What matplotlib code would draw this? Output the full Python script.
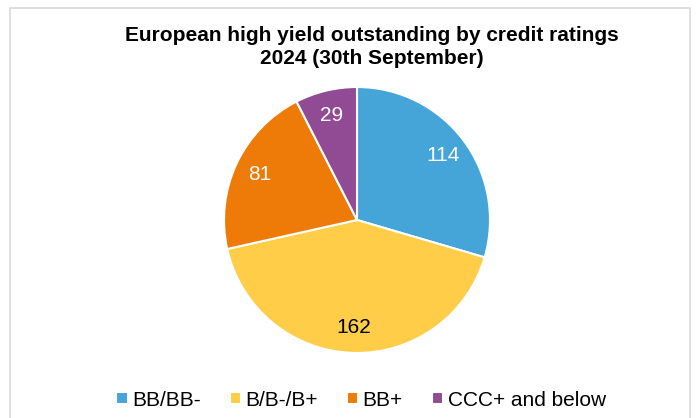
import matplotlib
matplotlib.use('Agg')
import matplotlib.pyplot as plt
from matplotlib.patches import Rectangle

# data
ratings = ['BB/BB-', 'B/B-/B+', 'BB+', 'CCC+ and below']
outstanding = [114, 162, 81, 29]
colors = ['#45A5D8', '#FFCD47', '#EE7A08', '#914B95']
label_colors = ['white', 'black', 'white', 'white']

plt.rcParams['font.family'] = ['Liberation Sans', 'DejaVu Sans']

fig = plt.figure(figsize=(6.97, 4.18), dpi=100)

# chart border
fig.patches.append(Rectangle((10 / 697, -0.02), 680 / 697, 1 - 8 / 418 + 0.02,
                             transform=fig.transFigure, fill=False,
                             edgecolor='#D9D9D9', linewidth=1.2))

ax = fig.add_axes([224 / 697, (418 - 353) / 418, 266 / 697, 266 / 418])
total = sum(outstanding)
wedges, texts, autotexts = ax.pie(
    outstanding, colors=colors, startangle=90, counterclock=False,
    autopct=lambda p: f"{p * total / 100:.0f}", pctdistance=0.81,
    wedgeprops=dict(edgecolor='white', linewidth=1.5),
    textprops=dict(fontsize=15))
for t, c in zip(autotexts, label_colors):
    t.set_color(c)
ax.set_xlim(-1, 1)
ax.set_ylim(-1, 1)

fig.text(372 / 697, 1 - 47 / 418,
         'European high yield outstanding by credit ratings\n2024 (30th September)',
         ha='center', va='center', fontsize=15, fontweight='bold', linespacing=1.25)

leg = fig.legend(wedges, ratings, loc='center', bbox_to_anchor=(361 / 697, 1 - 400 / 418),
                 ncol=4, frameon=False, fontsize=15, handlelength=0.55, handleheight=0.55,
                 handletextpad=0.2, columnspacing=1.4)

plt.savefig('out.png', dpi=100)
